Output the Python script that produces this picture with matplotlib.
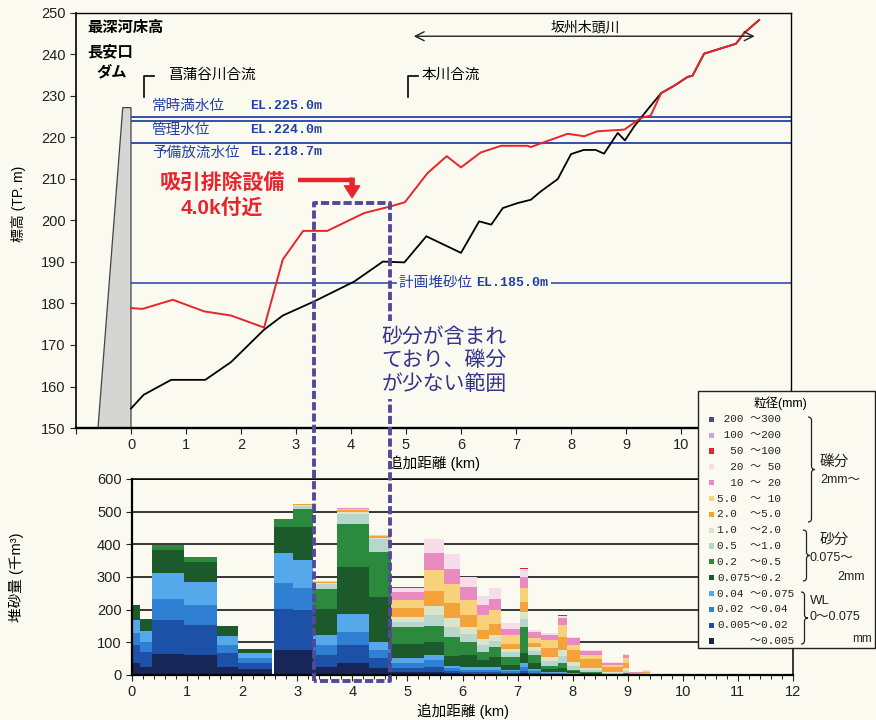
import matplotlib
matplotlib.use("Agg")
import matplotlib.pyplot as plt
import numpy as np
from matplotlib.lines import Line2D
from matplotlib.patches import Rectangle, PathPatch
from matplotlib.path import Path
from matplotlib.transforms import Affine2D, IdentityTransform, blended_transform_factory
from matplotlib.ticker import MultipleLocator

W, H = 876, 720
BG = "#fbfaf1"

# --- longitudinal profile (km from dam, elevation TP.m) ---
deep_km = [0, 0.23, 0.73, 1.35, 1.82, 2.42, 2.76, 3.33, 4.06, 4.58, 4.97, 5.37,
           6.0, 6.33, 6.55, 6.76, 7.03, 7.27, 7.45, 7.76, 8.0, 8.23, 8.45, 8.6,
           8.85, 8.98, 9.15, 9.39, 9.64, 9.88, 10.12, 10.21, 10.42, 11.0, 11.15, 11.42]
deep_el = [154.7, 158.0, 161.6, 161.6, 165.9, 173.7, 177.1, 180.5, 185.3, 190.1, 189.9, 196.2,
           192.2, 199.8, 199.0, 203.0, 204.2, 205.0, 207.0, 210.0, 216.0, 217.0, 217.0, 216.1,
           221.1, 219.3, 222.7, 226.7, 230.7, 232.5, 234.6, 234.9, 240.2, 242.6, 245.2, 248.3]

upper_km = [0, 0.21, 0.76, 1.33, 1.82, 2.42, 2.76, 3.13, 3.57, 4.24, 4.72, 4.98, 5.39,
            5.74, 6.0, 6.36, 6.73, 7.21, 7.27, 7.58, 7.94, 8.24, 8.48, 8.97, 9.27, 9.45,
            9.64, 9.88, 10.12, 10.21, 10.42, 11.0, 11.15, 11.42]
upper_el = [178.9, 178.7, 180.9, 178.1, 177.1, 174.2, 190.6, 197.5, 197.5, 201.8, 203.4, 204.4, 211.4,
            215.5, 212.8, 216.4, 218.0, 218.0, 217.7, 219.2, 220.9, 220.3, 221.5, 221.9, 224.7, 225.3,
            230.7, 232.5, 234.6, 234.9, 240.2, 242.6, 245.2, 248.3]

dam_km = [-0.6, -0.15, 0, 0]
dam_el = [150, 227.2, 227.2, 150]

wl_names = ["常時満水位", "管理水位", "予備放流水位"]
wl_el = [225.0, 224.0, 218.7]
wl_label_el = [227.7, 221.9, 216.4]
sed_el = 185.0

zone_km = (3.32, 4.71)

# --- sediment volume by grain size (thousand m3), bars between sections ---
bar_left = [0.00, 0.15, 0.36, 0.95, 1.54, 1.93, 2.57, 2.93, 3.28, 3.73, 4.31, 4.70, 5.31, 5.67,
            5.95, 6.26, 6.49, 6.70, 7.04, 7.19, 7.43, 7.74, 7.89, 8.14, 8.54, 8.92, 9.03, 9.26]
bar_right = [0.15, 0.36, 0.95, 1.54, 1.93, 2.54, 2.93, 3.28, 3.73, 4.31, 4.70, 5.31, 5.67, 5.95,
             6.26, 6.49, 6.70, 7.04, 7.19, 7.43, 7.74, 7.89, 8.14, 8.54, 8.92, 9.03, 9.26, 9.40]

v_lt0005 = [38, 25, 63, 61, 26, 17, 77, 77, 26, 38, 20, 10, 10, 5, 4, 4, 4, 3, 6, 3, 2, 2, 1, 1, 0.5, 0.5, 0.3, 0.5]
v_0005 = [54, 46, 105, 92, 40, 19, 124, 122, 35, 54, 31, 10, 15, 8, 5, 5, 5, 4, 7, 4, 2, 2, 1, 1, 0.5, 0.5, 0.3, 0.5]
v_002 = [36, 31, 64, 61, 26, 15, 80, 66, 31, 41, 26, 16, 21, 7, 6, 6, 6, 4, 10, 5, 3, 3, 2, 1, 0.5, 0.5, 0.3, 0.5]
v_004 = [40, 33, 79, 72, 28, 15, 91, 87, 31, 53, 25, 17, 15, 7, 10, 10, 10, 4, 13, 6, 3, 3, 2, 1, 0.5, 0.5, 0.3, 0.5]
v_0075 = [46, 36, 72, 61, 31, 15, 82, 102, 79, 146, 138, 42, 41, 32, 36, 21, 29, 16, 30, 20, 8, 12, 5, 2, 1, 2, 0.5, 1]
v_02 = [0, 0, 15, 15, 0, 0, 23, 54, 61, 129, 138, 51, 48, 58, 41, 25, 31, 25, 80, 22, 10, 16, 5, 3, 1, 3, 0.5, 1]
v_05 = [0, 0, 0, 0, 0, 0, 0, 10, 16, 32, 38, 17, 34, 31, 25, 20, 20, 13, 25, 14, 16, 20, 12, 6, 3, 6, 1, 1]
v_1 = [0, 0, 0, 0, 0, 0, 0, 2, 3, 5, 3, 15, 28, 28, 21, 18, 17, 12, 23, 12, 12, 18, 12, 6, 3, 7, 1, 1]
v_2 = [0, 0, 0, 0, 0, 0, 0, 3, 4, 7, 7, 26, 46, 43, 35, 29, 34, 15, 30, 12, 28, 41, 36, 27, 15, 16, 2, 3]
v_5 = [0, 0, 0, 0, 0, 0, 0, 0, 1, 2, 2, 26, 64, 59, 46, 46, 43, 25, 41, 15, 23, 36, 16, 13, 7, 15, 1, 2]
v_10 = [0, 0, 0, 0, 0, 0, 0, 0, 0, 3, 0, 25, 51, 46, 41, 31, 33, 21, 34, 18, 15, 20, 20, 13, 6, 10, 1, 2]
v_20 = [0, 0, 0, 0, 0, 0, 0, 0, 0, 0, 0, 10, 43, 46, 31, 28, 33, 17, 25, 8, 8, 7, 3, 2, 2, 2, 0.5, 1]
v_50 = [0, 0, 0, 0, 0, 0, 0, 0, 0, 0, 0, 3, 0, 0, 0, 0, 0, 1, 5, 0, 0, 3, 2, 0, 0, 2, 2, 2]
v_100 = [0] * 28
v_200 = [0] * 28

# bottom of the stack first
size_labels = ["     ～0.005", "0.005～0.02", "0.02 ～0.04", "0.04 ～0.075", "0.075～0.2",
               "0.2  ～0.5", "0.5  ～1.0", "1.0  ～2.0", "2.0  ～5.0", "5.0  ～ 10",
               "  10 ～ 20", "  20 ～ 50", "  50 ～100", " 100 ～200", " 200 ～300"]
size_values = [v_lt0005, v_0005, v_002, v_004, v_0075, v_02, v_05, v_1, v_2, v_5,
               v_10, v_20, v_50, v_100, v_200]
size_colors = ["#172656", "#1d51a8", "#2f80d2", "#55a9ea", "#1c5a2b", "#2b8a3d", "#b7d7cd",
               "#dde5c8", "#f4a23a", "#f7d27a", "#e98ac0", "#f6dde9", "#e0262e", "#c9a6d4", "#4b4a86"]

plt.rcParams["font.family"] = ["Liberation Sans", "Noto Sans CJK JP", "DejaVu Sans"]
MONO = ["Liberation Mono", "Noto Sans CJK JP"]
BLUE = "#2540a5"
RED = "#e8242c"
ZONE = "#55489a"

fig = plt.figure(figsize=(W / 100, H / 100), dpi=100, facecolor=BG)
PX = Affine2D().scale(1 / W, -1 / H).translate(0, 1) + fig.transFigure


def frame(l, t, r, b):
    return [l / W, 1 - b / H, (r - l) / W, (b - t) / H]


# ---------------- profile ----------------
ax = fig.add_axes(frame(76, 13, 791, 428), facecolor=BG)
ax.set_xlim(-1, 12)
ax.set_ylim(150, 250)
ax.fill(dam_km, dam_el, facecolor="#d5d5d3", edgecolor="#444444", lw=0.9, zorder=2)

ax.hlines(wl_el, 0, 12, color=BLUE, lw=1.3, zorder=2)
ax.hlines(sed_el, 0, 12, color=BLUE, lw=1.1, zorder=2)
for name, el, ly in zip(wl_names, wl_el, wl_label_el):
    ax.text(0.38, ly, name, color=BLUE, fontsize=10.5, va="center", ha="left")
    ax.text(2.16, ly, f"EL.{el:.1f}m", color=BLUE, fontsize=9.5, va="center", ha="left",
            family=MONO, fontweight="bold")
ax.text(4.87, sed_el, "計画堆砂位 ", color=BLUE, fontsize=10.5, va="center", ha="left",
        bbox=dict(facecolor=BG, edgecolor="none", pad=1.5), zorder=4)
ax.text(6.28, sed_el, f"EL.{sed_el:.1f}m", color=BLUE, fontsize=9.5, va="center", ha="left",
        family=MONO, fontweight="bold", bbox=dict(facecolor=BG, edgecolor="none", pad=1.5),
        zorder=4)

ax.plot(deep_km, deep_el, color="black", lw=1.3, zorder=3)
ax.plot(upper_km, upper_el, color=RED, lw=1.4, zorder=3)

ax.text(-0.8, 246.5, "最深河床高", fontsize=11, fontweight="bold", va="center")
ax.text(-0.8, 240.7, "長安口", fontsize=11, fontweight="bold", va="center")
ax.text(-0.35, 235.9, "ダム", fontsize=11, fontweight="bold", va="center", ha="center")

# confluence markers
for x0, label in ((0.23, "菖蒲谷川合流"), (5.04, "本川合流")):
    ax.plot([x0, x0, x0 + 0.18], [229.8, 234.8, 234.8], color="black", lw=1.2)
    ax.text(x0 + (0.44 if x0 < 1 else 0.25), 235.0, label, fontsize=10.5, va="center")

ax.annotate("", xy=(11.39, 244.4), xytext=(5.09, 244.4),
            arrowprops=dict(arrowstyle="<->", lw=1.0, color="#222222", mutation_scale=16))
ax.text(8.25, 246.6, "坂州木頭川", fontsize=10, ha="center", va="center")

ax.text(1.66, 209.2, "吸引排除設備", color=RED, fontsize=15, ha="center", va="center",
        fontweight="bold")
ax.text(1.66, 203.0, "4.0k付近", color=RED, fontsize=15, ha="center", va="center",
        fontweight="bold")
ax.plot([3.04, 4.02], [209.8, 209.8], color=RED, lw=3.2, solid_capstyle="butt")
ax.annotate("", xy=(4.02, 205.5), xytext=(4.02, 210.2),
            arrowprops=dict(facecolor=RED, edgecolor=RED, width=3, headwidth=11,
                            headlength=8.5, shrink=0))

ax.set_xticks(range(-1, 13))
ax.set_xticklabels([""] + [str(i) for i in range(13)])
ax.set_yticks(range(150, 251, 10))
ax.tick_params(direction="out", length=4, labelsize=10.5, colors="#222222")
for side in ax.spines:
    ax.spines[side].set_linewidth(1.0)
ax.spines["bottom"].set_linewidth(1.7)
ax.spines["left"].set_linewidth(1.2)
ax.set_xlabel("追加距離 (km)", fontsize=10.5, labelpad=2)
ax.set_ylabel("標高 (TP. m)", fontsize=10)
ax.yaxis.set_label_coords((26 - 76) / 715, 0.54)

# ---------------- sediment volume ----------------
axb = fig.add_axes(frame(132, 479, 793, 675), facecolor=BG)
widths = np.subtract(bar_right, bar_left)
base = np.zeros(len(bar_left))
for vals, color in zip(size_values, size_colors):
    axb.bar(bar_left, vals, width=widths, bottom=base, align="edge", color=color, lw=0)
    base += np.asarray(vals, dtype=float)
axb.set_xlim(0, 12)
axb.set_ylim(0, 600)
axb.set_axisbelow(True)
axb.yaxis.grid(True, color="black", lw=1.1)
axb.set_xticks(range(13))
axb.xaxis.set_minor_locator(MultipleLocator(0.2))
axb.set_yticks(range(0, 601, 100))
axb.tick_params(direction="out", length=4, labelsize=10.5, colors="#222222")
axb.tick_params(which="minor", direction="out", length=3)
for side in axb.spines:
    axb.spines[side].set_linewidth(1.1)
axb.spines["bottom"].set_linewidth(1.6)
axb.spines["left"].set_linewidth(1.6)
axb.set_xlabel("追加距離 (km)", fontsize=10.5, labelpad=3)
axb.set_ylabel("堆砂量 (千m³)", fontsize=10.5)
axb.yaxis.set_label_coords((24 - 132) / 661, 0.5)

# ---------------- dashed zone spanning both panels ----------------
top_tr = ax.transData
bot_tr = blended_transform_factory(ax.transData, axb.transData)
x0, x1 = zone_km
corners = np.array([bot_tr.transform((x0, -18)), top_tr.transform((x0, 204.2)),
                    top_tr.transform((x1, 204.2)), bot_tr.transform((x1, -18)),
                    bot_tr.transform((x0, -18))])
fig.add_artist(Line2D(corners[:, 0], corners[:, 1], transform=IdentityTransform(),
                      color=ZONE, lw=2.8, linestyle=(0, (2.1, 0.8)), zorder=11))
fig.text(4.55, 166.3, "砂分が含まれ\nており、礫分\nが少ない範囲", transform=ax.transData,
         color="#34348a", fontsize=15, ha="left", va="center", linespacing=1.25,
         bbox=dict(facecolor=BG, edgecolor="none", pad=4), zorder=13)

# ---------------- grain size key ----------------
fig.add_artist(Rectangle((698, 391), 177, 257, transform=PX, facecolor=BG,
                         edgecolor="#222222", lw=1.0, zorder=10))
fig.text(780, 403, "粒径(mm)", transform=PX, fontsize=9, ha="center", va="center", zorder=12)
for i, (label, color) in enumerate(zip(size_labels[::-1], size_colors[::-1])):
    y = 419.3 + i * 15.84
    fig.add_artist(Rectangle((709, y - 2.6), 5.2, 5.2, transform=PX, facecolor=color,
                             edgecolor="none", zorder=12))
    fig.text(717, y, label, transform=PX, fontsize=7.9, family=MONO, va="center",
             ha="left", color="#222222", zorder=12)


def brace(x, y0, y1, w=3.5):
    ym = (y0 + y1) / 2
    verts = [(x, y0), (x + w, y0), (x + w, y0 + w), (x + w, ym - w),
             (x + w, ym), (x + 2 * w, ym), (x + w, ym), (x + w, ym + w),
             (x + w, y1 - w), (x + w, y1), (x, y1)]
    codes = [Path.MOVETO, Path.CURVE3, Path.CURVE3, Path.LINETO,
             Path.CURVE3, Path.CURVE3, Path.CURVE3, Path.CURVE3,
             Path.LINETO, Path.CURVE3, Path.CURVE3]
    fig.add_artist(PathPatch(Path(verts, codes), transform=PX, fill=False,
                             lw=0.9, edgecolor="#222222", zorder=12))


brace(808, 417, 522)
brace(803, 530, 581)
brace(801, 592, 644)
for x, y, s, fs in ((820, 462, "礫分", 10.5), (820, 480, "2mm～", 9),
                    (820, 540, "砂分", 10.5), (810, 558, "0.075～", 9), (837, 577, "2mm", 9),
                    (810, 601, "WL", 9.5), (810, 617, "0～0.075", 9), (852, 639, "mm", 8.5)):
    fig.text(x, y, s, transform=PX, fontsize=fs, va="center", ha="left",
             color="#222222", zorder=12)

fig.savefig("out.png", dpi=100, facecolor=BG)
